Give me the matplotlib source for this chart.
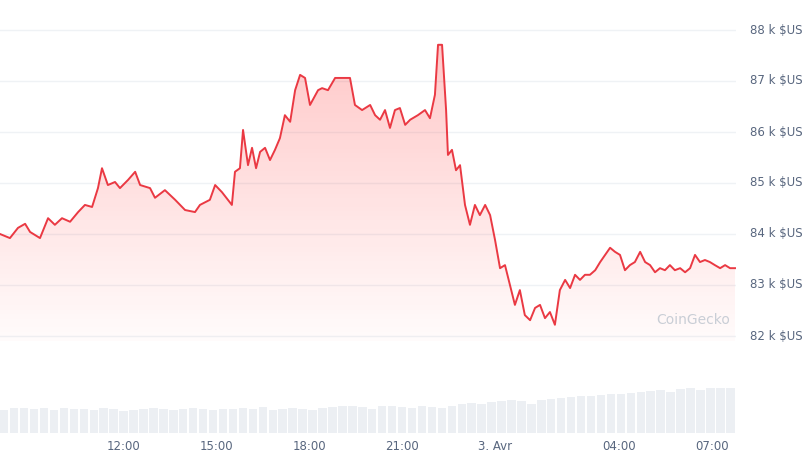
import matplotlib
matplotlib.use("Agg")
import matplotlib.pyplot as plt
import numpy as np
from matplotlib.patches import Polygon

t_hours = [8.03,8.35,8.61,8.84,9.00,9.32,9.58,9.80,10.03,10.29,10.55,10.77,11.00,11.19,11.32,11.51,11.74,11.90,12.16,12.39,12.55,12.87,13.03,13.35,13.68,14.00,14.32,14.48,14.80,14.97,15.19,15.38,15.51,15.61,15.77,15.87,16.03,16.16,16.29,16.42,16.58,16.74,16.90,17.06,17.22,17.39,17.55,17.71,17.87,18.03,18.29,18.42,18.61,18.84,19.06,19.32,19.48,19.71,19.97,20.13,20.29,20.45,20.61,20.77,20.93,21.10,21.26,21.51,21.74,21.90,22.06,22.16,22.29,22.42,22.48,22.61,22.74,22.87,23.03,23.19,23.35,23.51,23.68,23.84,24.00,24.16,24.32,24.48,24.64,24.80,24.96,25.13,25.29,25.45,25.61,25.77,25.93,26.09,26.26,26.42,26.58,26.74,26.90,27.06,27.23,27.39,27.55,27.71,27.87,28.03,28.19,28.35,28.51,28.68,28.84,29.00,29.16,29.32,29.48,29.64,29.80,29.97,30.13,30.29,30.45,30.61,30.77,30.93,31.09,31.26,31.42,31.58,31.74]
price_k = [84.00,83.92,84.12,84.20,84.04,83.92,84.31,84.18,84.31,84.24,84.43,84.57,84.53,84.90,85.29,84.96,85.02,84.90,85.06,85.22,84.96,84.90,84.71,84.86,84.67,84.47,84.43,84.57,84.67,84.96,84.82,84.67,84.57,85.22,85.29,86.04,85.35,85.69,85.29,85.61,85.69,85.45,85.65,85.88,86.33,86.20,86.82,87.12,87.06,86.53,86.82,86.86,86.82,87.06,87.06,87.06,86.53,86.43,86.53,86.33,86.24,86.43,86.08,86.43,86.47,86.14,86.24,86.33,86.43,86.27,86.73,87.71,87.71,86.43,85.55,85.65,85.25,85.35,84.57,84.18,84.57,84.37,84.57,84.37,83.88,83.33,83.39,83.00,82.61,82.90,82.41,82.31,82.55,82.61,82.35,82.47,82.22,82.90,83.10,82.94,83.20,83.10,83.20,83.20,83.29,83.45,83.59,83.73,83.65,83.59,83.29,83.39,83.45,83.65,83.45,83.39,83.25,83.33,83.29,83.39,83.29,83.33,83.25,83.33,83.59,83.45,83.49,83.45,83.39,83.33,83.39,83.33,83.33]
volume = [24,26,26,25,26,24,26,25,25,24,26,25,23,24,25,26,25,24,25,26,25,24,25,25,26,25,27,24,25,26,25,24,26,27,28,28,27,25,28,28,27,26,28,27,26,28,30,31,30,32,33,34,33,30,34,35,36,37,38,38,39,40,40,41,42,43,44,42,45,46,44,46,47,47]
tick_pos = [12, 15, 18, 21, 24, 28, 31]
tick_labels = ["12:00", "15:00", "18:00", "21:00", "3. Avr", "04:00", "07:00"]
y_ticks = [82, 83, 84, 85, 86, 87, 88]

W, H = 810, 459
fig = plt.figure(figsize=(8.10, 4.59), dpi=100)
x0h, x1h = 8.03, 8.03 + 736/31
ax = fig.add_axes([0, 0, 736/W, 1])
ax.set_xlim(x0h, x1h)
ax.set_ylim(88 - (H - 30)/51, 88 + 30/51)
ax.axis("off")
for v in y_ticks:
    ax.axhline(v, color="#eff2f5", lw=1, zorder=0)
    fig.text(750/W, 1 - (30 + (88 - v) * 51)/H, f"{v} k $US", fontsize=8.5,
             color="#58667e", va="center", ha="left")

t = np.array(t_hours); p = np.array(price_k)
base = 81.9
grad = np.linspace(0.28, 0.02, 256).reshape(-1, 1)
img = np.zeros((256, 1, 4)); img[..., 0] = 1; img[..., 1] = 0.23; img[..., 2] = 0.23; img[..., 3] = grad
im = ax.imshow(img, extent=[x0h, x1h, base, p.max()], aspect="auto", origin="upper", zorder=1)
poly = Polygon(np.column_stack([np.r_[t[0], t, t[-1]], np.r_[base, p, base]]), closed=True,
               transform=ax.transData, facecolor="none", edgecolor="none")
ax.add_patch(poly)
im.set_clip_path(poly)
ax.plot(t, p, color="#ea3943", lw=1.4, zorder=3)

axv = fig.add_axes([0, 1 - 433/H, 736/W, 60/H])
n = len(volume)
vx = np.linspace(x0h, x1h, n, endpoint=False)
axv.bar(vx, volume, width=(x1h - x0h)/n * 0.85, align="edge", color="#eceff3")
axv.set_xlim(x0h, x1h); axv.set_ylim(0, 62)
axv.axis("off")

for tp, tl in zip(tick_pos, tick_labels):
    xf = (tp - x0h) / (x1h - x0h) * 736/W
    fig.text(xf, 1 - 446/H, tl, fontsize=8.5, color="#58667e", ha="center", va="center")

fig.text(656/W, 1 - 320/H, "CoinGecko", fontsize=10, color="#c9ced6", ha="left", va="center")
fig.savefig("out.png", dpi=100)
